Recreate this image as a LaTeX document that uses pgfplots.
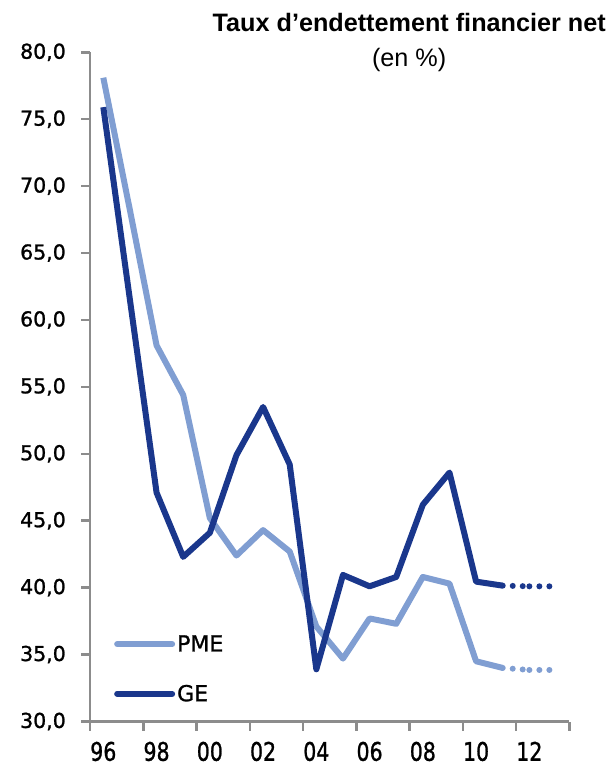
\documentclass[border=0pt]{standalone}
\usepackage{fontspec}
\setmainfont{Liberation Sans}
\newfontfamily\dv[BoldFont={DejaVu Sans}, BoldFeatures={FakeBold=1.2}]{DejaVu Sans}
\usepackage{pgfplots}
\pgfplotsset{compat=1.18}
\definecolor{pme}{RGB}{128,158,210}
\definecolor{ge}{RGB}{26,55,140}
\definecolor{axgray}{RGB}{140,140,140}

\begin{document}
\begin{tikzpicture}[x=1bp,y=1bp]
\useasboundingbox (-90,-46.5) rectangle (519,721.5);
\begin{axis}[
  at={(0,0)}, anchor=south west,
  scale only axis, width=479.3bp, height=669.2bp,
  xmin=1995.5, xmax=2013.5, ymin=30, ymax=80,
  axis x line*=bottom, axis y line*=left,
  axis line style={axgray, line width=2.5bp},
  tick align=outside, major tick length=9bp,
  tick style={axgray, line width=2.5bp},
  ytick={30,35,40,45,50,55,60,65,70,75,80},
  yticklabel style={font=\dv\bfseries\fontsize{20.5bp}{24bp}\selectfont, anchor=east, inner sep=0pt, xshift=-15bp,
    /pgf/number format/.cd, fixed, fixed zerofill, precision=1, use comma, assume math mode=true},
  xtick={1995.5,1997.5,1999.5,2001.5,2003.5,2005.5,2007.5,2009.5,2011.5,2013.5},
  xticklabels={},
  extra x ticks={1996,1998,2000,2002,2004,2006,2008,2010,2012},
  extra x tick labels={96,98,00,02,04,06,08,10,12},
  extra x tick style={major tick length=0pt,
    xticklabel style={font=\dv\bfseries\fontsize{20.5bp}{24bp}\selectfont, yscale=1.25, anchor=north, inner sep=0pt, yshift=-16bp}},
  legend cell align=left,
  legend image code/.code={\draw[#1, line cap=round] (0bp,0bp) -- (55bp,0bp);},
  legend style={draw=none, fill=none, inner sep=0pt, column sep=0bp, row sep=28bp,
    font=\dv\bfseries\fontsize{22bp}{26bp}\selectfont,
    at={(axis cs:1996.4,36.6)}, anchor=north west},
]
\addplot[pme, line width=6bp, line join=round] coordinates {
(1996,78.1) (1997,68.2) (1998,58.1) (1999,54.4) (2000,45.2) (2001,42.4) (2002,44.3) (2003,42.7)
(2004,37.1) (2005,34.7) (2006,37.7) (2007,37.3) (2008,40.8) (2009,40.3) (2010,34.5) (2011,34.0)};
\addlegendentry{PME}
\addplot[ge, line width=6bp, line join=round] coordinates {
(1996,75.9) (1997,61.5) (1998,47.1) (1999,42.3) (2000,44.1) (2001,49.9) (2002,53.5) (2003,49.2)
(2004,33.9) (2005,40.95) (2006,40.1) (2007,40.8) (2008,46.2) (2009,48.6) (2010,40.45) (2011,40.15)};
\addlegendentry{GE}
\addplot[pme, line width=6bp, line cap=round, dash pattern=on 0bp off 10bp, forget plot] coordinates {(2011,34.0) (2012,33.85)};
\addplot[pme, line width=6bp, line cap=round, dash pattern=on 0bp off 10bp, forget plot] coordinates {(2012,33.85) (2013,33.85)};
\addplot[ge, line width=6bp, line cap=round, dash pattern=on 0bp off 10bp, forget plot] coordinates {(2011,40.15) (2012,40.1)};
\addplot[ge, line width=6bp, line cap=round, dash pattern=on 0bp off 10bp, forget plot] coordinates {(2012,40.1) (2013,40.1)};
\end{axis}
\node[anchor=base, font=\bfseries\fontsize{25.2bp}{30bp}\selectfont, inner sep=0pt] at (319.2,689.8) {Taux d’endettement financier net};
\node[anchor=base, font=\fontsize{25.2bp}{30bp}\selectfont, inner sep=0pt] at (319.2,655.1) {(en \%)};
\end{tikzpicture}
\end{document}
